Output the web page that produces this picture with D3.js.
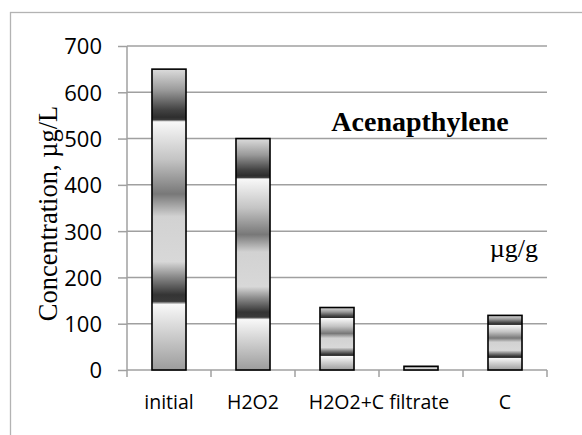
<!DOCTYPE html>
<html>
<head>
<meta charset="utf-8">
<script src="https://cdn.jsdelivr.net/npm/d3@7"></script>
<style>
  body { margin: 0; background: #fff; }
  svg { display: block; }
</style>
</head>
<body>
<svg id="Chart" width="582" height="435"></svg>
<script>
var categories = ["initial", "H2O2", "H2O2+C filtrate", "C"];
var slots = ["initial", "H2O2", "H2O2+C", "filtrate", "C"];
var values = [650, 500, 135, 8, 118];
var yTicks = [0, 100, 200, 300, 400, 500, 600, 700];
var chartTitle = "Acenapthylene";
var unitNote = "\u00b5g/g";
var yTitle = "Concentration, \u00b5g/L";

var margin = { top: 46, left: 127, right: 35, bottom: 65 };

document.addEventListener("DOMContentLoaded", () => {
  var svg = d3.select("#Chart");
  var innerW = 582 - margin.left - margin.right;   // 420
  var innerH = 370 - margin.top;                    // 324

  // outer chart frame (cut off on right/bottom like the reference)
  svg.append("rect")
    .attr("x", 10.5).attr("y", 12.5)
    .attr("width", 700).attr("height", 600)
    .attr("fill", "none")
    .attr("stroke", "#b3b3b3")
    .attr("stroke-width", 1.3);

  // banded gradient like the excel fill
  var stops = [
    [0, "#dcdcdc"], [0.07, "#9a9a9a"], [0.136, "#424242"], [0.16, "#2e2e2e"],
    [0.168, "#3a3a3a"], [0.175, "#f8f8f8"], [0.3, "#c4c4c4"], [0.415, "#787878"],
    [0.49, "#d2d2d2"], [0.64, "#d8d8d8"], [0.69, "#8a8a8a"], [0.75, "#343434"],
    [0.772, "#3a3a3a"], [0.782, "#f8f8f8"], [1, "#9c9c9c"]
  ];
  var grad = svg.append("defs").append("linearGradient")
    .attr("id", "bandFill")
    .attr("x1", 0).attr("y1", 0).attr("x2", 0).attr("y2", 1);
  grad.selectAll("stop").data(stops).enter().append("stop")
    .attr("offset", d => d[0])
    .attr("stop-color", d => d[1]);

  var g = svg.append("g").attr("transform", `translate(${margin.left},${margin.top})`);

  var x = d3.scaleBand().domain(slots).range([0, innerW]).paddingInner(0.595).paddingOuter(0.2975);
  var xSlot = d3.scaleBand().domain(slots).range([0, innerW]);
  var y = d3.scaleLinear().domain([0, 700]).range([innerH, 0]);

  // gridlines
  g.append("g")
    .selectAll("line").data(yTicks.slice(1)).enter().append("line")
    .attr("x1", 0).attr("x2", innerW)
    .attr("y1", d => y(d)).attr("y2", d => y(d))
    .attr("stroke", "#a0a0a0").attr("stroke-width", 1.5);

  // y axis
  var yAxis = g.append("g")
    .call(d3.axisLeft(y).tickValues(yTicks).tickSize(9).tickPadding(16));
  yAxis.selectAll("line, path").attr("stroke", "#a0a0a0").attr("stroke-width", 1.5);
  yAxis.select(".domain").attr("d", `M0,0V${innerH}`);
  yAxis.selectAll("text")
    .attr("font-family", "Open Sans")
    .attr("font-size", 22)
    .attr("fill", "#000")
    .attr("dy", "0.36em");

  // x axis: ticks at slot boundaries
  var bounds = slots.map(s => xSlot(s)).concat([innerW]);
  var xg = g.append("g").attr("transform", `translate(0,${innerH})`);
  xg.append("line").attr("x1", 0).attr("x2", innerW).attr("y1", 0).attr("y2", 0)
    .attr("stroke", "#a0a0a0").attr("stroke-width", 1.5);
  xg.selectAll(".tk").data(bounds).enter().append("line")
    .attr("x1", d => d).attr("x2", d => d).attr("y1", 0).attr("y2", 7)
    .attr("stroke", "#a0a0a0").attr("stroke-width", 1.5);

  // category labels: "H2O2+C filtrate" spans two slots
  var labelPos = [
    xSlot("initial") + xSlot.bandwidth() / 2,
    xSlot("H2O2") + xSlot.bandwidth() / 2,
    xSlot("H2O2+C") + xSlot.bandwidth(),
    xSlot("C") + xSlot.bandwidth() / 2
  ];
  xg.selectAll(".lbl").data(categories).enter().append("text")
    .attr("x", (d, i) => labelPos[i])
    .attr("y", 39)
    .attr("text-anchor", "middle")
    .attr("font-family", "Open Sans")
    .attr("font-size", 19.5)
    .attr("fill", "#000")
    .text(d => d);

  // bars
  g.selectAll(".bar").data(values).enter().append("rect")
    .attr("x", (d, i) => x(slots[i]))
    .attr("y", d => y(d))
    .attr("width", x.bandwidth())
    .attr("height", d => innerH - y(d))
    .attr("fill", "url(#bandFill)")
    .attr("stroke", "#000")
    .attr("stroke-width", 1.6);

  // titles
  svg.append("text")
    .attr("x", 420).attr("y", 131)
    .attr("text-anchor", "middle")
    .attr("font-family", "Liberation Serif")
    .attr("font-weight", "bold")
    .attr("font-size", 28)
    .text(chartTitle);

  svg.append("text")
    .attr("x", 538).attr("y", 257)
    .attr("text-anchor", "end")
    .attr("font-family", "Liberation Serif")
    .attr("font-size", 26)
    .text(unitNote);

  svg.append("text")
    .attr("transform", "translate(57,213.5) rotate(-90)")
    .attr("text-anchor", "middle")
    .attr("font-family", "Liberation Serif")
    .attr("font-size", 26.5)
    .text(yTitle);
});
</script>
</body>
</html>
